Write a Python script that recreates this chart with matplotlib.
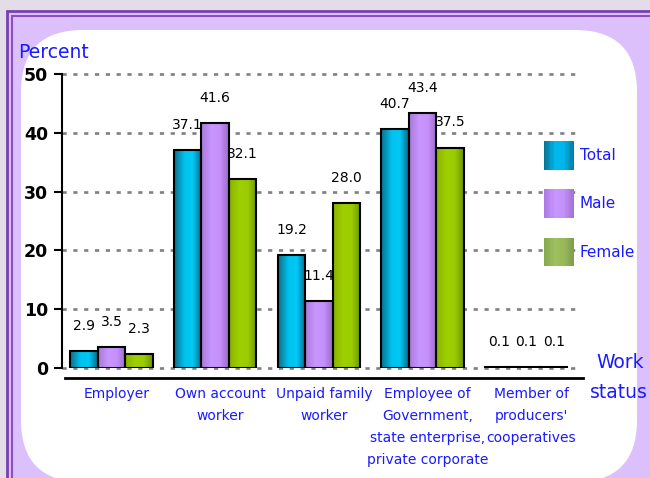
import matplotlib
matplotlib.use("Agg")
import matplotlib.pyplot as plt
import matplotlib.transforms as mtransforms
import numpy as np
from matplotlib.colors import LinearSegmentedColormap, to_hex
from matplotlib.legend_handler import HandlerBase
from matplotlib.lines import Line2D
from matplotlib.patches import FancyBboxPatch, Rectangle

# --- data -------------------------------------------------------------------
categories = [
    "Employer",
    "Own account\nworker",
    "Unpaid family\nworker",
    "Employee of\nGovernment,\nstate enterprise,\nprivate corporate",
    "Member of\nproducers'\ncooperatives",
]
series_names = ["Total", "Male", "Female"]
total = [2.9, 37.1, 19.2, 40.7, 0.1]
male = [3.5, 41.6, 11.4, 43.4, 0.1]
female = [2.3, 32.1, 28.0, 37.5, 0.1]
y_ticks = [0, 10, 20, 30, 40, 50]

# gradient stops (left edge -> highlight -> right edge) per series
GRADIENTS = {
    "Total": ["#0b6f8c", "#00c3ef", "#00c8f5", "#086a86"],
    "Male": ["#a87ad8", "#c896ff", "#c590fc", "#9b6cc8"],
    "Female": ["#88b400", "#9fcf00", "#99cc00", "#6e9400"],
}
LEGEND_GRADIENTS = {
    "Total": ["#0a6f8e", "#00b8ec", "#00b4e8", "#0878a0"],
    "Male": ["#a878e0", "#c896ff", "#c48ff8", "#a070d0"],
    "Female": ["#84a850", "#a0c060", "#98b858", "#7f9a4a"],
}
BLUE = "#1a1aff"
W, H = 650, 478


def _cmap(stops):
    return LinearSegmentedColormap.from_list("g", list(zip([0, 0.38, 0.68, 1], stops)))


class GradientHandler(HandlerBase):
    """Legend key drawn as vertical stripes to imitate the bar gradient."""

    def __init__(self, stops, n=24):
        super().__init__()
        self.cmap = _cmap(stops)
        self.n = n

    def create_artists(self, legend, orig_handle, xdescent, ydescent, width, height, fontsize, trans):
        artists = []
        step = width / self.n
        for i in range(self.n):
            r = Rectangle((-xdescent + i * step, -ydescent), step * 1.05, height,
                          facecolor=to_hex(self.cmap((i + 0.5) / self.n)), edgecolor="none",
                          transform=trans)
            artists.append(r)
        return artists


fig = plt.figure(figsize=(W / 100, H / 100), dpi=100)
fig.patch.set_facecolor("#e3dde9")
px = mtransforms.IdentityTransform()

# purple frame with double border, then white rounded panel
fig.patches.append(Rectangle((7, -20), 700, H - 11 + 20, transform=px, facecolor="#dcc0fb",
                             edgecolor="#7a3fb0", linewidth=2, zorder=-10))
fig.patches.append(Rectangle((12, -20), 700, H - 16 + 20, transform=px, facecolor="none",
                             edgecolor="#8a50c0", linewidth=1.5, zorder=-10))
fig.patches.append(FancyBboxPatch((21, -4), 637 - 21, H - 30 + 4, transform=px,
                                  boxstyle="round,pad=0,rounding_size=62",
                                  facecolor="white", edgecolor="none", zorder=-9))

ax = fig.add_axes([62 / W, 110 / H, 516 / W, 294 / H])
ax.set_facecolor("none")

x = np.arange(len(categories))
width = 0.265
for k, (name, vals) in enumerate(zip(series_names, [total, male, female])):
    bars = ax.bar(x + (k - 1) * width, vals, width, facecolor="none", edgecolor="black",
                  linewidth=1.5, zorder=3)
    cmap = _cmap(GRADIENTS[name])
    grad = np.linspace(0, 1, 64).reshape(1, -1)
    for b in bars:
        im = ax.imshow(grad, cmap=cmap, aspect="auto", zorder=2,
                       extent=(b.get_x(), b.get_x() + b.get_width(), 0, b.get_height()))
        im.set_clip_path(b)
    for xi, v in zip(x + (k - 1) * width, vals):
        ax.annotate(f"{v:.1f}", (xi, v), xytext=(0, 18), textcoords="offset points",
                    ha="center", va="center", fontsize=10, color="black")

ax.set_xlim(-0.478, 4.50)
ax.set_ylim(0, 50)
ax.set_yticks(y_ticks)
ax.set_yticklabels([str(t) for t in y_ticks], fontsize=12.5, fontweight="bold")
ax.tick_params(axis="y", length=6, width=1.5, pad=4, direction="out")
ax.set_xticks(x + 0.05)
ax.set_xticklabels(categories, fontsize=10, color=BLUE, va="top")
for lbl in ax.get_xticklabels():
    lbl.set_linespacing(1.72)
ax.tick_params(axis="x", length=0, pad=14)

for side in ("top", "right", "bottom"):
    ax.spines[side].set_visible(False)
ax.spines["left"].set_linewidth(1.5)
ax.set_axisbelow(True)
ax.grid(axis="y", color="#808080", linewidth=1.9, linestyle=(0, (1.6, 2.5)))
ax.grid(axis="x", visible=False)
for gl in ax.get_ygridlines():
    gl.set_clip_on(False)

# black base line below the zero line
ax.add_line(Line2D([0.006, 1.01], [-0.034, -0.034], transform=ax.transAxes,
                   color="black", linewidth=2, clip_on=False))

fig.text(18 / W, 1 - 53 / H, "Percent", color=BLUE, fontsize=13.5, ha="left", va="center")
fig.text(620 / W, 1 - 362 / H, "Work", color=BLUE, fontsize=13.5, ha="center", va="center")
fig.text(619 / W, 1 - 393 / H, "status", color=BLUE, fontsize=13.5, ha="center", va="center")

handles = [Rectangle((0, 0), 1, 1, label=n) for n in series_names]
fig.legend(handles=handles, labels=series_names, loc="upper left",
           bbox_to_anchor=(544 / W, 1 - 141 / H), frameon=False, fontsize=11,
           labelcolor=BLUE, handlelength=1.95, handleheight=2.5, labelspacing=1.3,
           handletextpad=0.4, borderpad=0, borderaxespad=0,
           handler_map={h: GradientHandler(LEGEND_GRADIENTS[n]) for h, n in zip(handles, series_names)})

fig.savefig("out.png", dpi=100, facecolor=fig.get_facecolor())
